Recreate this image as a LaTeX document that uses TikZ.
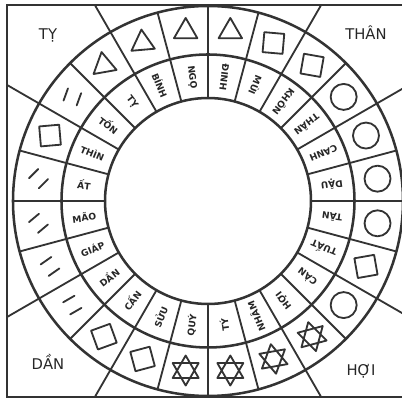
\documentclass[tikz,border=0pt]{standalone}
\usepackage{fontspec}
\setmainfont{DejaVu Sans}
\setsansfont{DejaVu Sans}

\begin{document}
\begin{tikzpicture}[x=0.025cm, y=0.025cm, font=\sffamily,
  ink/.style={draw=black!80, line width=1.3pt},
  heavy/.style={draw=black!80, line width=1.8pt},
  sym/.style={draw=black!80, line width=1.3pt, line join=round, line cap=round},
  sector label/.style={inner sep=0pt, text=black!85, font=\sffamily\bfseries\fontsize{6.5}{7}\selectfont},
  corner label/.style={inner sep=0pt, text=black!85, font=\sffamily\fontsize{10.5}{12}\selectfont},
  tri/.pic={\draw[sym] (90:13.5) -- (210:13.5) -- (330:13.5) -- cycle;},
  box/.pic={\draw[sym] (-10,-10) rectangle (10,10);},
  disc/.pic={\draw[sym] (0,0) circle (13);},
  hexa/.pic={\draw[sym] (90:15) -- (210:15) -- (330:15) -- cycle (270:15) -- (30:15) -- (150:15) -- cycle;},
  strokes/.pic={\draw[sym] (-6.5,7) -- (6.5,7) (-6.5,-7) -- (6.5,-7);}]
\useasboundingbox (-208,-198) rectangle (194,201); \clip (-208,-198) rectangle (194,201);
\coordinate (O) at (0,0);
\draw[heavy] (-201,-196) rectangle (230,196);
\draw[heavy] (O) circle (195); \draw[heavy] (O) circle (146.5); \draw[heavy] (O) circle (103);
\foreach \a in {0,15,...,345} \draw[ink] (\a:103) -- (\a:195);
\begin{scope} \clip (-201,-196) rectangle (230,196); \foreach \a in {30,60,120,150,210,240,300,330} \draw[ink] (\a:195) -- (\a:320); \end{scope}
\foreach \lab [count=\i from 0] in {DẬU,CANH,THÂN,KHÔN,MÙI,ĐINH,NGỌ,BÍNH,TỴ,TỐN,THÌN,ẤT,MÃO,GIÁP,DẦN,CẤN,SỬU,QUÝ,TÝ,NHÂM,HỢI,CÀN,TUẤT,TÂN}
  \node[sector label, rotate={187.5+15*\i}] (s\i) at ({7.5+15*\i}:125) {\lab};
\foreach \kind/\turn [count=\i from 0] in {disc/0,disc/0,disc/0,box/-10,box/-5,tri/0,tri/0,tri/5,tri/10,strokes/70,box/5,strokes/45,strokes/40,strokes/35,strokes/30,box/20,box/15,hexa/0,hexa/0,hexa/10,hexa/15,disc/0,box/10,disc/0}
  \pic[rotate=\turn] at ({7.5+15*\i}:171) {\kind};
\node[corner label] (ty) at (-160,166) {TỴ}; \node[corner label] (than) at (158,168) {THÂN};
\node[corner label] (dan) at (-160,-161) {DẦN}; \node[corner label] (hoi) at (153,-170) {HỢI};
\end{tikzpicture}
\end{document}
